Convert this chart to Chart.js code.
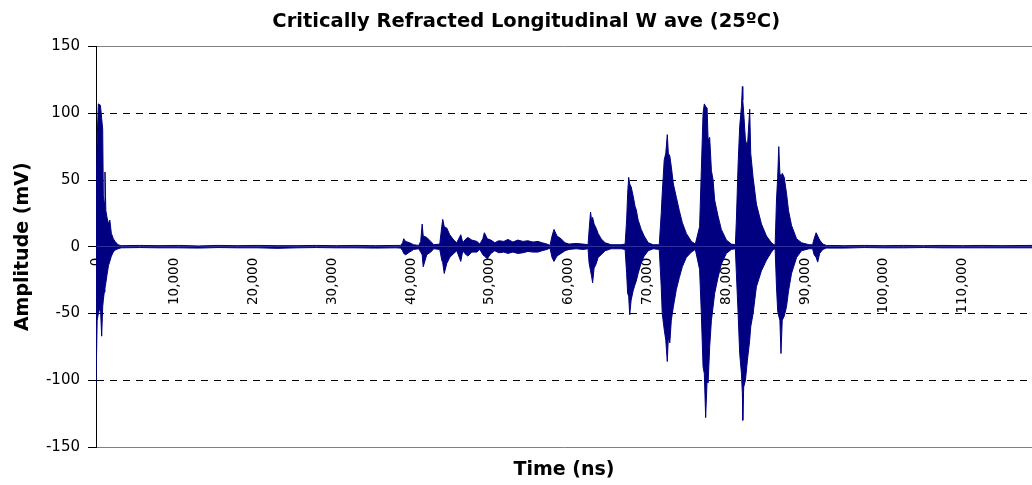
<!DOCTYPE html>
<html lang="en">
<head>
  <meta charset="UTF-8">
  <title>Critically Refracted Longitudinal Wave</title>
  <script src="https://cdn.jsdelivr.net/npm/chart.js"></script>
  <style>
    body {
      margin: 0;
      background: #fff;
    }
    #chart-container {
      width: 1032px;
      height: 485px;
    }
  </style>
</head>
<body>
  <div id="chart-container">
    <canvas id="waveChart"></canvas>
  </div>

  <script>
    const timeNs = [
      0, 150, 300, 560, 720, 850, 930, 1050, 1140, 1250, 1400, 1590, 1750, 1950, 2200, 2420, 2800,
      3200, 5500, 8000, 10500, 13000, 15500, 18000, 20500, 23000, 25500, 28000, 30500, 33000, 35500, 38000,
      38670, 38920, 39050, 39300, 39810, 40320, 40960, 41210, 41400, 41530, 41980, 42485, 42870,
      43630, 43885, 44010, 44200, 44520, 44900, 45410, 45790, 46300, 46555, 46810, 47190, 47700,
      48340, 48720, 49100, 49290, 49670, 50120, 50620, 51130, 51770, 52280, 52920, 53550, 54190,
      54820, 55460, 56100, 56600, 57240, 57620, 57880, 58130, 58510, 59020, 59530, 60040, 60930,
      61820, 62455, 62580, 62770, 62900, 63030, 63220, 63470, 63730, 64110, 64620, 65380, 66650,
      67160, 67350, 67480, 67610, 67740, 67920, 68175, 68430, 68560, 68810, 69200, 69580, 70090,
      70720, 71490, 71740, 71870, 72120, 72320, 72510, 72640, 72830, 73020, 73280, 73660, 74040,
      74420, 74930, 75570, 76070, 76610, 76830, 77050, 77210, 77380, 77560, 77690, 77890, 78110,
      78320, 78520, 78950, 79370, 80010, 80640, 81150, 81280, 81500, 81700, 81920, 82040, 82090,
      82210, 82430, 82680, 82970, 83100, 83400, 83820, 84460, 85100, 85730, 86050, 86200, 86370,
      86520, 86660, 86800, 86940, 87100, 87350, 87640, 87900, 88280, 88920, 89550, 90500, 90950,
      91150, 91400, 91600, 91850, 92250, 92700, 95000, 97500, 100000, 102500, 105000, 107500,
      110000, 112500, 115000, 118800
    ];
    const upperMv = [
      40, 81, 107, 106, 96, 88, 38, 33, 56, 27, 22, 17, 20, 10, 6, 4, 1.5,
      0.8, 1, 0.8, 1, 0.6, 1, 0.8, 1, 0.8, 0.8, 1, 0.8, 1, 0.8, 1,
      1, 3, 6, 4, 3, 1.5, 1, 4, 17, 8, 7, 4, 1.5,
      2, 15, 20.5, 15, 14, 9, 5, 3, 9, 3, 5, 7, 5,
      4, 2, 6, 10.5, 6, 5, 3, 4.5, 4, 5.5, 3.5, 5, 4,
      4.5, 3.5, 4, 3, 2, 1, 8, 13, 8, 6, 3, 2, 2.5,
      2, 1.5, 12, 26, 20, 22, 17, 14, 10, 6, 3, 1.5, 1.5,
      2, 20, 40, 52, 47, 45, 38, 30, 28, 20, 13, 8, 3,
      1.5, 1.5, 25, 40, 65, 70, 84, 70, 68, 60, 47, 37, 27,
      18, 10, 4, 2, 15, 57, 100, 107, 105, 104, 80, 82, 57,
      50, 35, 23, 13, 5, 2, 1.5, 20, 62, 90, 105, 120, 110,
      100, 80, 75, 103, 70, 52, 32, 17, 8, 3, 1.5, 1.5, 35,
      52, 75, 55, 52, 55, 52, 40, 27, 16, 6, 3, 1.5, 1.5,
      6, 10.5, 8, 5, 2, 1, 0.8, 1, 0.8, 1, 0.8, 1,
      0.8, 1, 0.8, 1
    ];
    const lowerMv = [
      -103, -55, -50, -45, -67, -45, -40, -34, -31, -27, -21, -14, -11, -7, -4, -2.5, -1.5,
      -0.8, -0.6, -0.8, -0.8, -1, -0.6, -0.8, -0.8, -1.2, -0.8, -0.6, -0.8, -0.8, -1, -0.8,
      -1, -3, -5, -6, -4, -2, -1.5, -4, -6, -15, -6, -4, -1.5,
      -2, -10, -12, -20, -12.5, -8, -5, -3, -11, -3, -5, -7, -4,
      -4, -2, -6, -7, -9, -5, -3, -4.5, -4, -5, -4, -5, -4.5,
      -3.5, -4, -4, -3, -2, -1, -8, -11, -7, -5, -3, -2, -1.5,
      -2, -1.5, -12, -18, -22, -27, -16, -13, -8, -6, -3, -1.5, -1.5,
      -2, -20, -35, -37, -51, -40, -33, -28, -26, -20, -12, -7, -3,
      -1.5, -2, -30, -50, -62, -70, -86, -68, -72, -55, -45, -32, -23,
      -15, -8, -4, -2, -17, -50, -90, -95, -128, -100, -102, -75, -55,
      -45, -35, -23, -13, -5, -2, -1.5, -20, -50, -80, -95, -110, -130,
      -105, -100, -85, -70, -60, -50, -30, -18, -10, -4, -1.5, -2, -30,
      -48, -52, -55, -80, -55, -52, -45, -33, -20, -8, -3, -1.5, -1.5,
      -6, -8, -11.5, -5, -2, -1, -1, -0.6, -0.8, -0.8, -0.6, -0.8,
      -0.8, -0.8, -0.8, -0.8
    ];

    const xTickValues = [0, 10000, 20000, 30000, 40000, 50000, 60000, 70000, 80000, 90000, 100000, 110000];
    const yTickValues = [-150, -100, -50, 0, 50, 100, 150];
    const xMax = 118800;

    const waveColor = '#000080';

    Chart.defaults.font.family = "'DejaVu Sans', sans-serif";
    Chart.defaults.color = '#000';

    const toPoints = (values) => timeNs.map((t, i) => ({ x: t, y: values[i] }));

    const ctx = document.getElementById('waveChart').getContext('2d');
    const waveChart = new Chart(ctx, {
      type: 'line',
      data: {
        datasets: [
          { label: 'Upper', data: toPoints(upperMv), fill: 'origin', borderColor: waveColor, backgroundColor: waveColor },
          { label: 'Lower', data: toPoints(lowerMv), fill: 'origin', borderColor: waveColor, backgroundColor: waveColor }
        ]
      },
      options: {
        responsive: true,
        maintainAspectRatio: false,
        animation: false,
        layout: { padding: 0 },
        elements: {
          point: { radius: 0 },
          line: { tension: 0, borderWidth: 1 }
        },
        plugins: {
          legend: { display: false },
          tooltip: { enabled: false },
          title: {
            display: true,
            text: '\u00a0\u00a0\u00a0Critically Refracted Longitudinal W ave (25ºC)',
            color: '#000',
            font: { size: 19.5, weight: 'bold' },
            padding: { top: 9.8, bottom: 13.3 }
          }
        },
        scales: {
          x: {
            type: 'linear',
            position: 'bottom',
            min: 0,
            max: xMax,
            ticks: { display: false },
            grid: { display: false, drawTicks: false },
            border: { display: false },
            title: {
              display: true,
              text: 'Time (ns)',
              color: '#000',
              font: { size: 19, weight: 'bold' },
              padding: { top: 11.6, bottom: 3.6 }
            }
          },
          // tick labels sit on the zero line, like the original
          xZero: {
            type: 'linear',
            axis: 'x',
            position: { y: 0 },
            min: 0,
            max: xMax,
            afterBuildTicks: (scale) => { scale.ticks = xTickValues.map((v) => ({ value: v })); },
            ticks: {
              minRotation: 90,
              maxRotation: 90,
              padding: 11,
              color: '#000',
              font: { size: 13.5 },
              callback: (v) => Number(v).toLocaleString('en-US')
            },
            grid: { display: false, drawTicks: false },
            border: { display: false }
          },
          y: {
            min: -150,
            max: 150,
            afterBuildTicks: (scale) => { scale.ticks = yTickValues.map((v) => ({ value: v })); },
            afterFit: (scale) => { scale.width = 96; },
            ticks: { padding: 8, color: '#000', font: { size: 15 } },
            grid: {
              color: (c) => {
                if (!c.tick) return '#000';
                if (c.tick.value === 0) return 'rgba(0,0,0,0)';
                return Math.abs(c.tick.value) === 150 ? '#808080' : '#000';
              },
              tickColor: '#000',
              tickLength: 8,
              lineWidth: 1
            },
            border: {
              display: true,
              color: '#000',
              width: 1,
              dash: (c) => (c.tick && Math.abs(c.tick.value) < 150) ? [7, 6] : []
            },
            title: {
              display: true,
              text: 'Amplitude (mV)',
              color: '#000',
              font: { size: 19, weight: 'bold' },
              padding: { top: 11.6, bottom: 11.6 }
            }
          }
        }
      }
    });
  </script>
</body>
</html>
